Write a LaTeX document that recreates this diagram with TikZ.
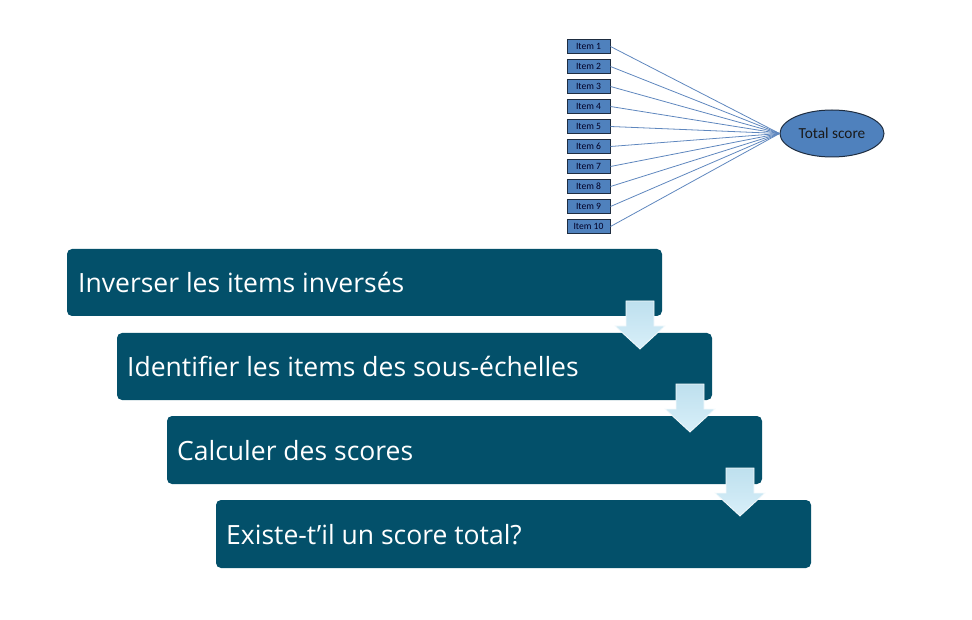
\documentclass[tikz,border=0pt]{standalone}
\usepackage{fontspec}
\setmainfont{Open Sans}
\newfontfamily\calfont{Carlito}
\usetikzlibrary{shapes.geometric}
\definecolor{boxblue}{RGB}{3,80,106}
\definecolor{itemblue}{RGB}{79,129,189}
\definecolor{itemborder}{RGB}{30,45,65}
\definecolor{linkblue}{RGB}{95,135,190}
\definecolor{arrtop}{RGB}{190,224,238}
\definecolor{arrbot}{RGB}{216,239,249}
\tikzset{
  stepbox/.style={fill=boxblue, draw=none, rounded corners=5pt},
  steptext/.style={text=white, anchor=base west, inner sep=0pt, font=\fontsize{26.5}{30}\selectfont},
  itembox/.style={draw=itemborder, line width=1pt, fill=itemblue, minimum width=43pt, minimum height=14pt, inner sep=0pt, font=\calfont\fontsize{9.6}{10}\selectfont, text=black!85!blue},
  totalnode/.style={ellipse, draw=itemborder, line width=1pt, fill=itemblue, minimum width=104pt, minimum height=47pt, inner sep=0pt, font=\calfont\fontsize{15.3}{17}\selectfont, text=black!90},
  link/.style={draw=linkblue, line width=0.8pt},
  downarrow/.style={top color=arrtop, bottom color=arrbot, draw=white!85!arrtop, line width=0.8pt}
}
\begin{document}
\begin{tikzpicture}[x=1pt,y=-1pt]
\useasboundingbox (0,0) rectangle (972,620);
% step boxes
\path[stepbox] (67,249) rectangle (662,316);
\path[stepbox] (117,333) rectangle (712,400);
\path[stepbox] (167,416) rectangle (762,484);
\path[stepbox] (216,500) rectangle (811,568);
\node[steptext] (s1) at (78,293) {Inverser les items inversés};
\node[steptext] (s2) at (127,377) {Identifier les items des sous-échelles};
\node[steptext] (s3) at (177,460) {Calculer des scores};
\node[steptext] (s4) at (226,544) {Existe-t’il un score total?};
% arrows
\foreach \cx/\ty in {640/301, 690/384, 740/468}{
  \path[downarrow] (\cx-14,\ty) -- (\cx+14,\ty) -- (\cx+14,\ty+25) -- (\cx+25,\ty+25)
    -- (\cx,\ty+48) -- (\cx-25,\ty+25) -- (\cx-14,\ty+25) -- cycle;
}
% items
\node[totalnode] (tot) at (832,133.5) {Total score};
\foreach \i in {1,...,10}{
  \node[itembox] (it\i) at (588.5,{46.5+20*(\i-1)}) {Item \i};
  \draw[link] (it\i.east) -- (tot.west);
}
\end{tikzpicture}
\end{document}
